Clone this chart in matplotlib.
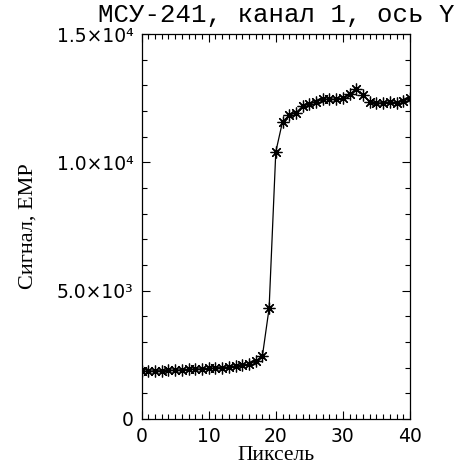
import numpy as np
import matplotlib
matplotlib.use('Agg')
import matplotlib.pyplot as plt
import matplotlib.ticker as ticker

# pixel number and signal
pixel = np.arange(0, 41)
signal = np.array([1870, 1850, 1880, 1870, 1900, 1890, 1920, 1930, 1950, 1940,
                   1970, 1990, 2000, 2030, 2060, 2090, 2130, 2250, 2450, 4310,
                   10410, 11580, 11840, 11930, 12190, 12270, 12360, 12450, 12470, 12450,
                   12500, 12650, 12840, 12620, 12360, 12300, 12330, 12350, 12330, 12380,
                   12500])

ytick_vals = [0, 5000, 10000, 15000]
ytick_labels = ['0', '5.0×10³', '1.0×10⁴', '1.5×10⁴']
xtick_vals = [0, 10, 20, 30, 40]

title_txt = 'МСУ-241, канал 1, ось Y'
xlab = 'Пиксель'
ylab = 'Сигнал, ЕМР'

fig = plt.figure(figsize=(4.57, 4.66), dpi=100)
ax = fig.add_axes([0.310, 0.101, 0.587, 0.826])

ax.plot(pixel, signal, '-', color='black', linewidth=0.9,
        marker=(8, 2, 0), markersize=8.5, markeredgewidth=0.9,
        markeredgecolor='black')

ax.set_xlim(0, 40)
ax.set_ylim(0, 15000)
ax.set_xticks(xtick_vals)
ax.set_yticks(ytick_vals)
ax.set_yticklabels(ytick_labels)
ax.xaxis.set_minor_locator(ticker.MultipleLocator(1))
ax.yaxis.set_minor_locator(ticker.MultipleLocator(1000))

ax.tick_params(which='both', direction='in', top=True, right=True, width=0.8)
ax.tick_params(which='major', length=6, labelsize=13.5, pad=6)
ax.tick_params(which='minor', length=3.5)
for s in ax.spines.values():
    s.set_linewidth(0.9)

ax.set_title(title_txt, family='Liberation Mono', fontsize=18.5, pad=9)
ax.set_xlabel(xlab, family='Liberation Serif', fontsize=15.5, labelpad=0)
ax.set_ylabel(ylab, family='Liberation Serif', fontsize=16, labelpad=14)

fig.savefig('out.png', dpi=100)
